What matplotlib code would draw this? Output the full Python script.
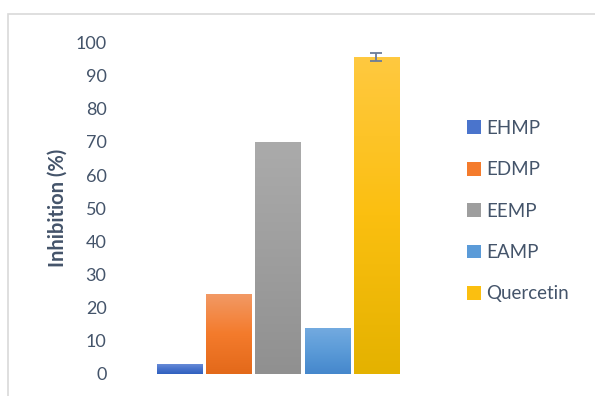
import matplotlib
matplotlib.use("Agg")
import matplotlib.pyplot as plt
import numpy as np
from matplotlib.patches import Rectangle, Patch
from matplotlib.colors import LinearSegmentedColormap

plt.rcParams['font.family'] = ['Lato', 'DejaVu Sans']

categories = ["EHMP", "EDMP", "EEMP", "EAMP", "Quercetin"]
values = [3.1, 24.2, 70.1, 13.9, 95.6]
errors = [0, 0, 0, 0, 1.1]
top_colors = ["#6E90DA", "#F29A66", "#ABABAB", "#74ABE0", "#FFC940"]
mid_colors = ["#4A74CC", "#F47B2C", "#9E9E9E", "#5B9BD8", "#FBBF10"]
bot_colors = ["#2F60BF", "#E3691A", "#909090", "#4587CC", "#E4B200"]
yticks = [0, 10, 20, 30, 40, 50, 60, 70, 80, 90, 100]

W, H = 595, 396
fig = plt.figure(figsize=(W / 100, H / 100), dpi=100)

# chart border
fig.patches.append(Rectangle((8 / W, -0.1), 1.2, (H - 14) / H + 0.1,
                             transform=fig.transFigure, fill=False,
                             edgecolor="#D9D9D9", linewidth=1.2))

ax_left, ax_right = 110, 440
ax_bottom, ax_top = 374, 42.5
ax = fig.add_axes([ax_left / W, (H - ax_bottom) / H,
                   (ax_right - ax_left) / W, (ax_bottom - ax_top) / H])

x = np.arange(len(categories))
unit = 49.1
xlim = (0 - (180 - ax_left) / unit, 4 + (ax_right - 376.5) / unit)
bars = ax.bar(x, values, width=0.93, color=mid_colors, zorder=2)

for b, tc, mc, bc in zip(bars, top_colors, mid_colors, bot_colors):
    cmap = LinearSegmentedColormap.from_list("g", [bc, mc, tc])
    grad = np.linspace(0, 1, 256).reshape(-1, 1)
    x0, y0 = b.get_x(), b.get_y()
    im = ax.imshow(grad, cmap=cmap, aspect="auto", origin="lower",
                   extent=[x0, x0 + b.get_width(), y0, y0 + b.get_height()],
                   zorder=3)
    im.set_clip_path(b)

ax.errorbar(x[4:], values[4:], yerr=errors[4:], fmt="none",
            ecolor="#6B7C9A", elinewidth=1.3, capsize=4.5, capthick=1.3,
            zorder=4)

ax.set_xlim(*xlim)
ax.set_ylim(0, 100)
ax.set_yticks(yticks)
ax.set_yticklabels([str(t) for t in yticks])
ax.set_xticks([])
for s in ax.spines.values():
    s.set_visible(False)
ax.tick_params(axis="y", length=0, pad=2.5, labelsize=13, labelcolor="#44546A")

fig.text(58 / W, 1 - 208 / H, "Inhibition (%)", rotation=90, ha="center",
         va="center", fontsize=14.5, fontweight="bold", color="#44546A")

handles = [Patch(facecolor=c, edgecolor="none") for c in mid_colors]
leg = fig.legend(handles, categories, loc="upper left",
                 bbox_to_anchor=(450 / W, 1 - 103 / H), frameon=False,
                 fontsize=13.5, labelcolor="#44546A", handlelength=0.75,
                 handleheight=0.75, handletextpad=0.3, labelspacing=1.3)

fig.savefig("out.png", dpi=100)
